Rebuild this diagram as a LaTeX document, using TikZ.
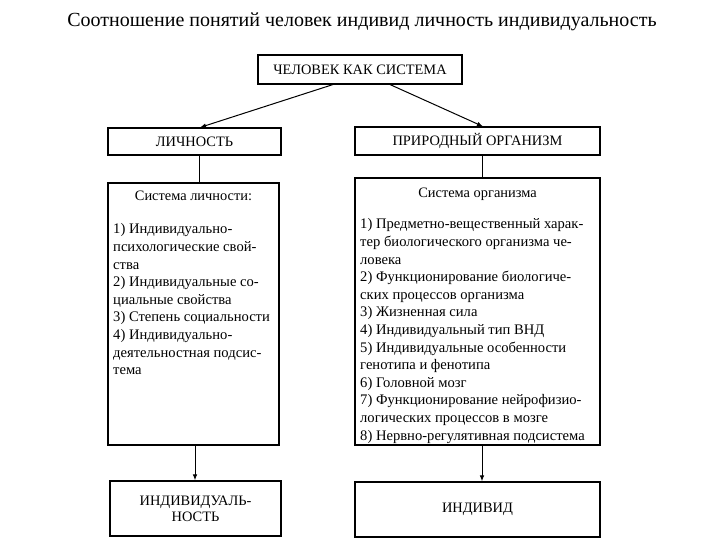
\documentclass[tikz,border=0pt]{standalone}
\usepackage{fontspec}
\setmainfont{Liberation Serif}
\usetikzlibrary{arrows.meta}
\begin{document}
\begin{tikzpicture}[x=1pt,y=-1pt,
  box/.style={draw=black,line width=1.1pt,inner sep=0pt,font=\fontsize{14.4}{16}\selectfont},
  line/.style={draw=black,line width=1pt},
  arr/.style={line,-{Latex[length=6pt,width=4.5pt]}},
  itemtext/.style={inner sep=0pt,align=left,font=\fontsize{14.6}{17.6}\selectfont},
  headtext/.style={inner sep=0pt,font=\fontsize{14.4}{16}\selectfont}]
\fill[white] (0,0) rectangle (720,540);
\useasboundingbox (0,0) rectangle (720,540);
\node[inner sep=0pt,font=\fontsize{20}{22}\selectfont] (title) at (362,22) {Соотношение понятий человек индивид личность индивидуальность};
\node[box,minimum width=204pt,minimum height=29pt] (top) at (360,69.5) {ЧЕЛОВЕК КАК СИСТЕМА};
\node[box,minimum width=173pt,minimum height=27pt] (lich) at (194.5,141.5) {ЛИЧНОСТЬ};
\node[box,minimum width=245pt,minimum height=28pt] (prir) at (477.5,141) {ПРИРОДНЫЙ ОРГАНИЗМ};
\node[box,minimum width=171pt,minimum height=262pt] (lsys) at (193.5,314) {};
\node[box,minimum width=245pt,minimum height=267pt] (rsys) at (477.5,311.5) {};
\node[box,minimum width=171pt,minimum height=55pt,align=center] (indl) at (195.5,508.5) {ИНДИВИДУАЛЬ-\\НОСТЬ};
\node[box,minimum width=245pt,minimum height=55pt] (indr) at (477.5,509.5) {ИНДИВИД};
\node[headtext,anchor=base] (lhead) at (193.5,201) {Система личности:};
\node[headtext,anchor=base] (rhead) at (477.5,197) {Система организма};
\node[itemtext,anchor=north west] (ltext) at (113,223.5) {1) Индивидуально-\\психологические свой-\\ства\\2) Индивидуальные со-\\циальные свойства\\3) Степень социальности\\4) Индивидуально-\\деятельностная подсис-\\тема};
\node[itemtext,anchor=north west] (rtext) at (360,218.5) {1) Предметно-вещественный харак-\\тер биологического организма че-\\ловека\\2) Функционирование биологиче-\\ских процессов организма\\3) Жизненная сила\\4) Индивидуальный тип ВНД\\5) Индивидуальные особенности\\генотипа и фенотипа\\6) Головной мозг\\7) Функционирование нейрофизио-\\логических процессов в мозге\\8) Нервно-регулятивная подсистема};
\draw[arr] ([xshift=-27pt]top.south) -- ([xshift=5.5pt]lich.north);
\draw[arr] ([xshift=30pt]top.south) -- ([xshift=5.5pt]prir.north);
\draw[line] ([xshift=4.5pt]lich.south) -- ([xshift=5.5pt]lsys.north);
\draw[line] ([xshift=4.5pt]prir.south) -- ([xshift=4.5pt]rsys.north);
\draw[arr] ([xshift=1.5pt]lsys.south) -- ([xshift=-0.5pt]indl.north);
\draw[arr] ([xshift=4.5pt]rsys.south) -- ([xshift=4.5pt]indr.north);
\end{tikzpicture}
\end{document}
